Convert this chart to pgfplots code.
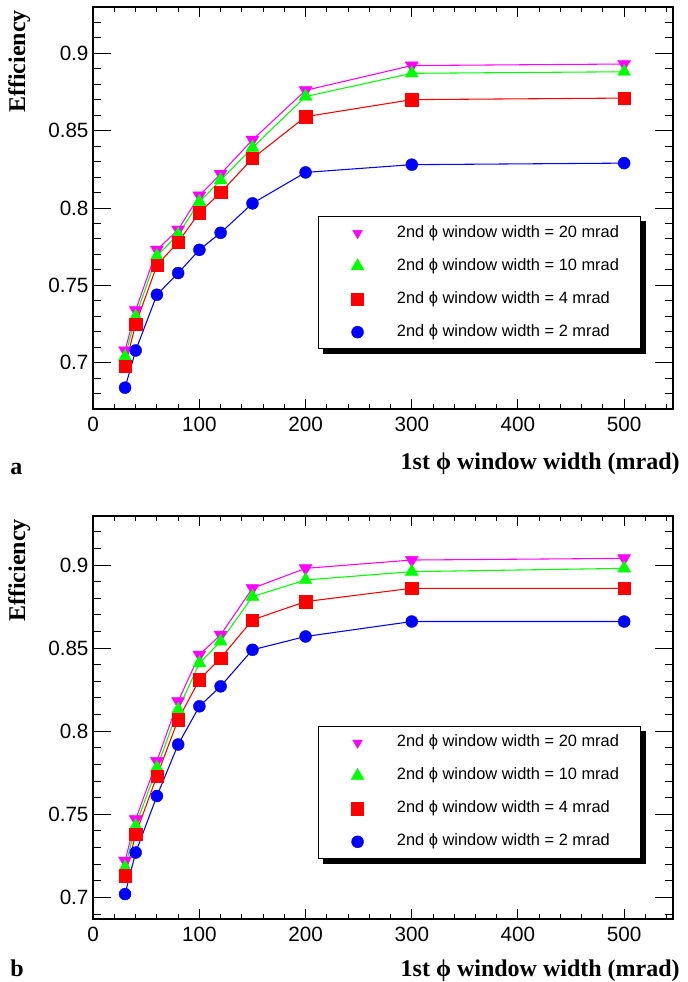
\documentclass[border=0pt]{standalone}
\usepackage{fontspec}
\setmainfont{Liberation Sans}
\newfontfamily\serifbf{Liberation Serif}[BoldFont={Liberation Serif Bold}]
\usepackage{pgfplots}
\pgfplotsset{compat=1.18}
\definecolor{rmag}{rgb}{1,0,1}
\definecolor{rgreen}{rgb}{0,1,0}
\definecolor{rred}{rgb}{1,0,0}
\definecolor{rblue}{rgb}{0,0,1}

\pgfplotsset{
  rootpanel/.style={
    scale only axis, width=434.85pt,
    xmin=0, xmax=546,
    xtick={0,100,200,300,400,500,600}, minor x tick num=4,
    ytick={0.65,0.7,0.75,0.8,0.85,0.9,0.95}, minor y tick num=4,
    /pgf/number format/assume math mode=true,
    yticklabel style={/pgf/number format/fixed, /pgf/number format/precision=2},
    xticklabel style={yshift=-2.3pt},
    tick label style={font=\fontsize{15.5}{18}\selectfont},
    axis line style={line width=1.5pt},
    tick style={line width=0.75pt, black},
    xtick style={/pgfplots/major tick length=7.5pt, /pgfplots/minor tick length=3.75pt},
    ytick style={/pgfplots/major tick length=13.5pt, /pgfplots/minor tick length=6pt},
    legend style={at={(0.388,0.480)}, anchor=north west, draw=black, line width=0.6pt,
      fill=white, inner xsep=16.25pt, inner ysep=6.5pt, row sep=12.75pt, column sep=16.5pt,
      font=\fontsize{12.3}{14}\selectfont,
      nodes={inner sep=0pt, text height=9pt, text depth=3pt}},
    legend cell align=left,
    legend image code/.code={\path[draw=none, fill=none] (0pt,-5pt) rectangle (26pt,5pt);
      \draw[mark repeat=2,mark phase=2,##1] plot coordinates {(0pt,0pt)(13pt,0pt)(26pt,0pt)};},
  },
  smag/.style={color=rmag, line width=0.8pt, mark=triangle*, mark size=5.6pt,
    mark options={rotate=180, solid, fill=rmag, draw=rmag, line width=0.3pt}},
  sgreen/.style={color=rgreen, line width=0.8pt, mark=triangle*, mark size=5.6pt,
    mark options={solid, fill=rgreen, draw=rgreen, line width=0.3pt}},
  sred/.style={color=rred, line width=0.8pt, mark=square*, mark size=4.6pt,
    mark options={solid, fill=rred, draw=rred, line width=0.3pt}},
  sblue/.style={color=rblue, line width=0.8pt, mark=*, mark size=4.5pt,
    mark options={solid, fill=rblue, draw=rblue, line width=0.3pt}},
}

\begin{document}
\begin{tikzpicture}
\useasboundingbox (0,0) rectangle (516pt,736.5pt);

% ---------------- panel a ----------------
\begin{axis}[rootpanel, at={(69.9pt,429.5pt)}, anchor=south west,
  height=301.95pt, ymin=0.67, ymax=0.93, legend style={name=legA}]
\addplot[smag, forget plot] coordinates {(30,0.708)(40,0.734)(60,0.773)(80,0.786)(100,0.808)(120,0.822)(150,0.844)(200,0.876)(300,0.892)(500,0.893)};
\addplot[sgreen, forget plot] coordinates {(30,0.704)(40,0.730)(60,0.769)(80,0.783)(100,0.804)(120,0.818)(150,0.839)(200,0.872)(300,0.887)(500,0.888)};
\addplot[sred, forget plot] coordinates {(30,0.698)(40,0.725)(60,0.763)(80,0.778)(100,0.797)(120,0.810)(150,0.832)(200,0.859)(300,0.870)(500,0.871)};
\addplot[sblue, forget plot] coordinates {(30,0.684)(40,0.708)(60,0.744)(80,0.758)(100,0.773)(120,0.784)(150,0.803)(200,0.823)(300,0.828)(500,0.829)};
\addlegendimage{only marks, smag, mark size=4.2pt}
\addlegendentry{2nd ϕ window width = 20 mrad}
\addlegendimage{only marks, sgreen}
\addlegendentry{2nd ϕ window width = 10 mrad}
\addlegendimage{only marks, sred}
\addlegendentry{2nd ϕ window width = 4 mrad}
\addlegendimage{only marks, sblue}
\addlegendentry{2nd ϕ window width = 2 mrad}
\end{axis}
\fill[black] ([yshift=-3.75pt]legA.north east) rectangle ([xshift=3.75pt,yshift=-3.75pt]legA.south east);
\fill[black] ([xshift=3.75pt,yshift=-3.75pt]legA.south west) rectangle (legA.south east);

% ---------------- panel b ----------------
\begin{axis}[rootpanel, at={(69.9pt,47.0pt)}, anchor=south west,
  height=302.5pt, ymin=0.6868, ymax=0.9295, legend style={name=legB}]
\addplot[smag, forget plot] coordinates {(30,0.722)(40,0.747)(60,0.782)(80,0.818)(100,0.846)(120,0.858)(150,0.886)(200,0.898)(300,0.903)(500,0.904)};
\addplot[sgreen, forget plot] coordinates {(30,0.718)(40,0.743)(60,0.778)(80,0.813)(100,0.841)(120,0.854)(150,0.881)(200,0.891)(300,0.896)(500,0.898)};
\addplot[sred, forget plot] coordinates {(30,0.713)(40,0.738)(60,0.773)(80,0.807)(100,0.831)(120,0.844)(150,0.867)(200,0.878)(300,0.886)(500,0.886)};
\addplot[sblue, forget plot] coordinates {(30,0.702)(40,0.727)(60,0.761)(80,0.792)(100,0.815)(120,0.827)(150,0.849)(200,0.857)(300,0.866)(500,0.866)};
\addlegendimage{only marks, smag, mark size=4.2pt}
\addlegendentry{2nd ϕ window width = 20 mrad}
\addlegendimage{only marks, sgreen}
\addlegendentry{2nd ϕ window width = 10 mrad}
\addlegendimage{only marks, sred}
\addlegendentry{2nd ϕ window width = 4 mrad}
\addlegendimage{only marks, sblue}
\addlegendentry{2nd ϕ window width = 2 mrad}
\end{axis}
\fill[black] ([yshift=-3.75pt]legB.north east) rectangle ([xshift=3.75pt,yshift=-3.75pt]legB.south east);
\fill[black] ([xshift=3.75pt,yshift=-3.75pt]legB.south west) rectangle (legB.south east);

% ---------------- titles ----------------
\begin{scope}[every node/.style={inner sep=0pt, font=\serifbf\bfseries\fontsize{18}{20}\selectfont}]
\node[anchor=base east] at (510pt,384pt) {1st ϕ window width (mrad)};
\node[anchor=base east] at (510pt,4.5pt) {1st ϕ window width (mrad)};
\node[anchor=base west] at (7.5pt,380.25pt) {a};
\node[anchor=base west] at (7.5pt,4.5pt) {b};
\node[anchor=base east, rotate=90] at (18.75pt,729pt) {Efficiency};
\node[anchor=base east, rotate=90] at (18.75pt,347.25pt) {Efficiency};
\end{scope}
\end{tikzpicture}
\end{document}
